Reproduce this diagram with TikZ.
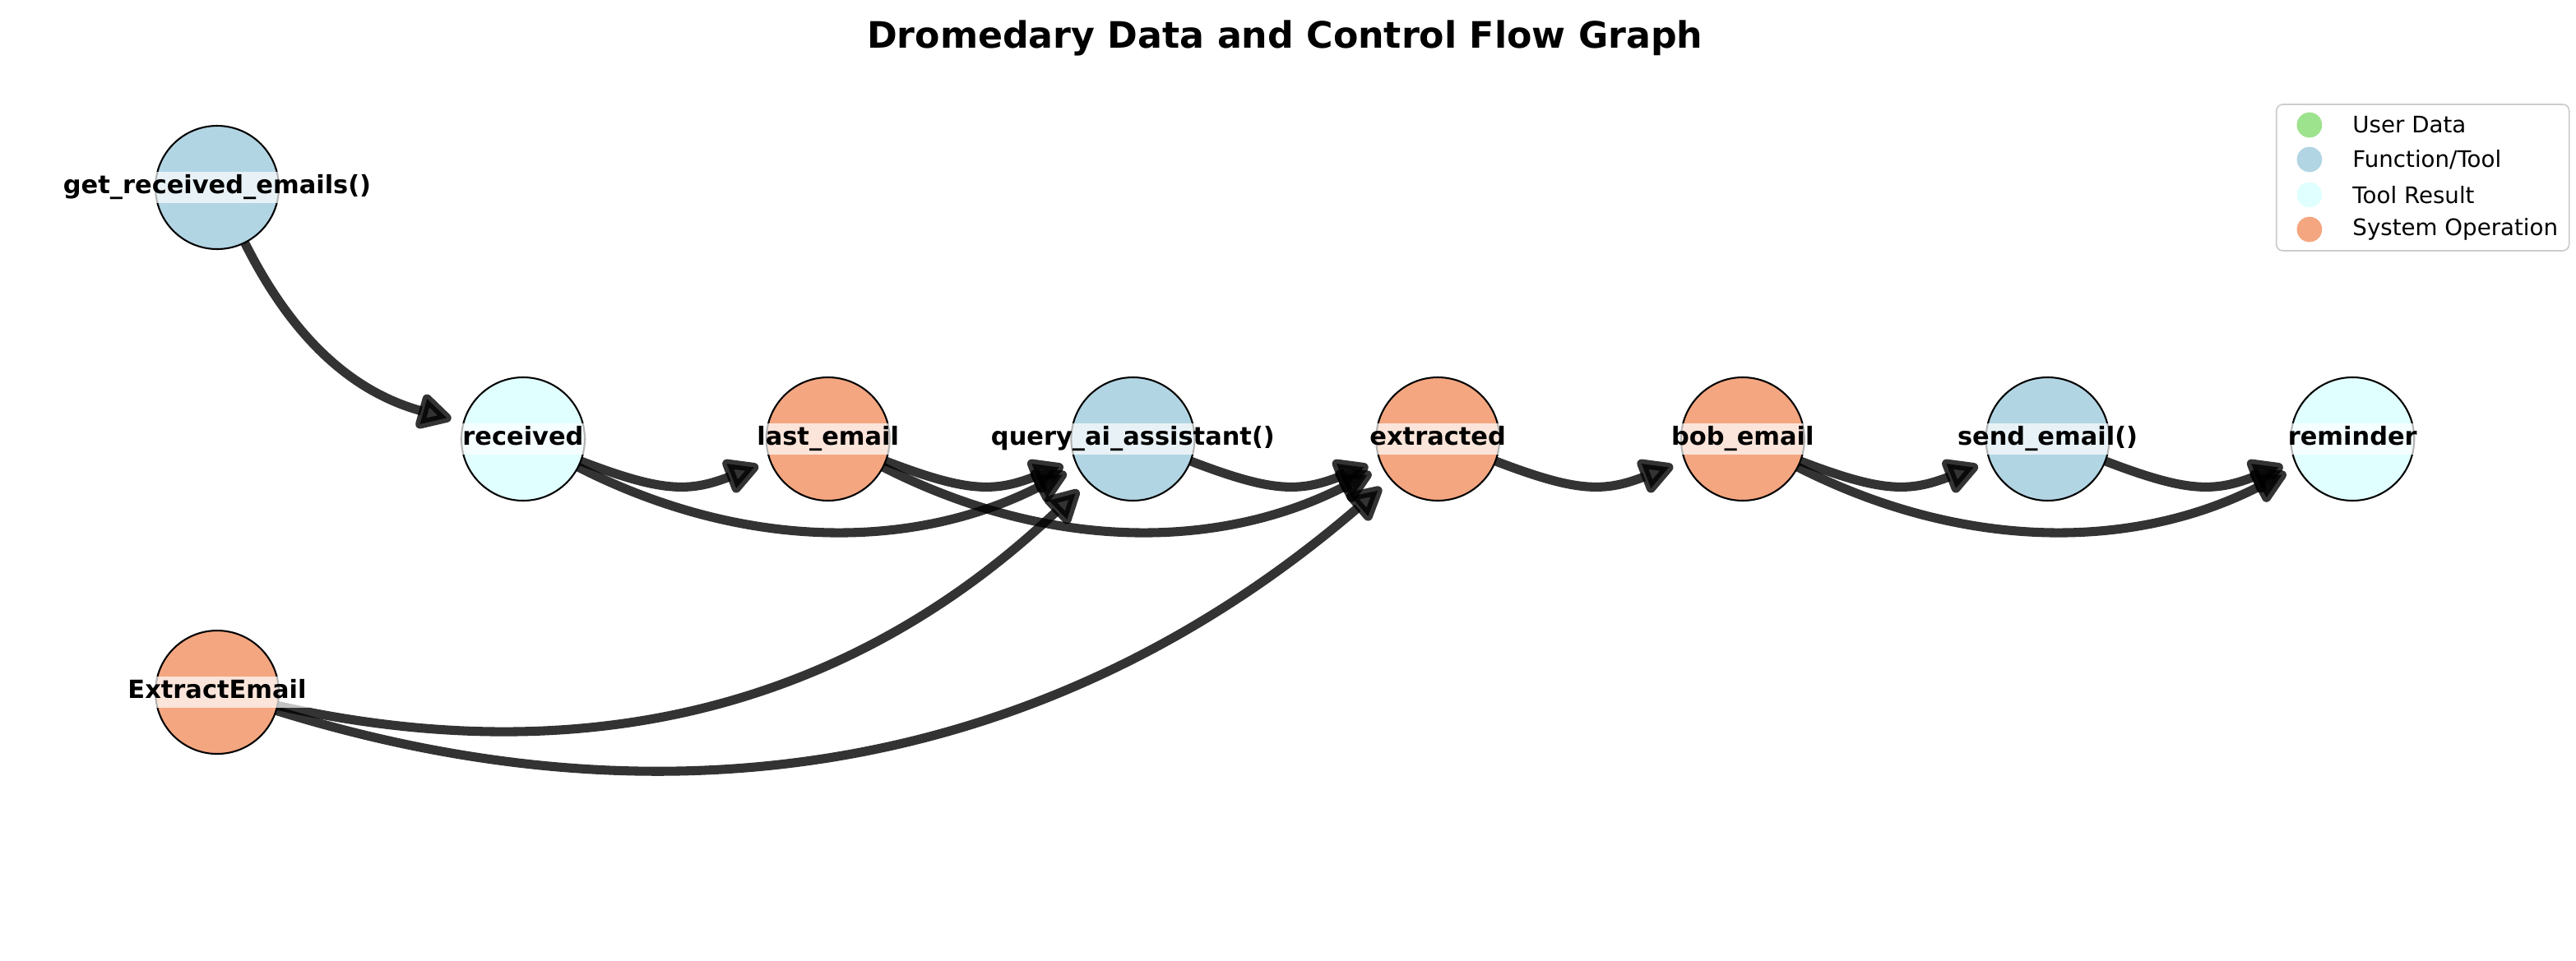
\documentclass[tikz,border=0pt]{standalone}
\usepackage{fontspec}
\setmainfont{DejaVu Sans}
\usepackage{xcolor}
\usetikzlibrary{arrows.meta}
\usetikzlibrary{positioning}
\pgfdeclarelayer{background}
\pgfsetlayers{background,main}
\definecolor{userdata}{HTML}{9DE38D}
\definecolor{functool}{HTML}{B2D5E4}
\definecolor{toolresult}{HTML}{E0FFFF}
\definecolor{sysop}{HTML}{F4A680}

\begin{document}
\begin{tikzpicture}[
op/.style={circle,draw=black,line width=0.75pt,minimum size=1.905cm,inner sep=0pt,outer sep=0pt,node distance=2.803cm},
tag/.style={font=\fontsize{11}{13}\selectfont\bfseries,fill=white,fill opacity=0.7,text opacity=1,inner xsep=1pt,inner ysep=2pt,text height=0.76em,text depth=0.24em},
line/.style={draw=black,opacity=0.8,line width=4pt,-{Triangle[length=0.6cm,width=0.6cm,round]},shorten >=0.2cm},
key/.style={circle,minimum size=0.39cm,inner sep=0pt},
keytext/.style={anchor=west,font=\fontsize{10}{12}\selectfont,inner sep=0pt}]

\useasboundingbox (0,0) rectangle (39.776,14.834);

\node[font=\fontsize{16}{19}\selectfont\bfseries, anchor=base] (title) at (19.84,14.097) {Dromedary Data and Control Flow Graph};

\node [op, fill=functool, label={[tag]center:{get\_received\_emails()}}] (get) at (3.353,11.938) {};
\node [op, fill=toolresult, label={[tag]center:{received}}] (recv) at (8.077,8.052) {};
\node [op, fill=sysop, label={[tag]center:{last\_email}}, right=of recv] (last) {};
\node [op, fill=functool, label={[tag]center:{query\_ai\_assistant()}}, right=of last] (query) {};
\node [op, fill=sysop, label={[tag]center:{extracted}}, right=of query] (extr) {};
\node [op, fill=sysop, label={[tag]center:{bob\_email}}, right=of extr] (bob) {};
\node [op, fill=functool, label={[tag]center:{send\_email()}}, right=of bob] (send) {};
\node [op, fill=toolresult, label={[tag]center:{reminder}}, right=of send] (remind) {};
\node [op, fill=sysop, label={[tag]center:{ExtractEmail}}] (xmail) at (3.353,4.140) {};

\begin{pgfonlayer}{background}
\path [line] (get) to[bend right=24, looseness=1.01] (recv);
\path [line] (recv) to[bend right=21, looseness=1.18] (last);
\path [line] (recv) to[bend right=27, looseness=0.95] (query);
\path [line] (last) to[bend right=21, looseness=1.18] (query);
\path [line] (last) to[bend right=27, looseness=0.95] (extr);
\path [line] (query) to[bend right=21, looseness=1.18] (extr);
\path [line] (xmail) to[bend right=28, looseness=0.98] (query);
\path [line] (xmail) to[bend right=29, looseness=0.97] (extr);
\path [line] (extr) to[bend right=21, looseness=1.18] (bob);
\path [line] (bob) to[bend right=21, looseness=1.18] (send);
\path [line] (bob) to[bend right=27, looseness=0.95] (remind);
\path [line] (send) to[bend right=21, looseness=1.18] (remind);
\end{pgfonlayer}

% legend
\draw[draw=black!20, line width=0.6pt, rounded corners=0.1cm, fill=white] (35.15,10.96) rectangle (39.67,13.221);
\node[key, fill=userdata] (k1) at (35.66,12.903) {};
\node[key, fill=functool] (k2) at (35.66,12.370) {};
\node[key, fill=toolresult] (k3) at (35.66,11.824) {};
\node[key, fill=sysop] (k4) at (35.66,11.290) {};
\node[keytext] (t1) at (36.32,12.903) {User Data};
\node[keytext] (t2) at (36.32,12.370) {Function/Tool};
\node[keytext] (t3) at (36.32,11.824) {Tool Result};
\node[keytext] (t4) at (36.32,11.290) {System Operation};
\end{tikzpicture}
\end{document}
